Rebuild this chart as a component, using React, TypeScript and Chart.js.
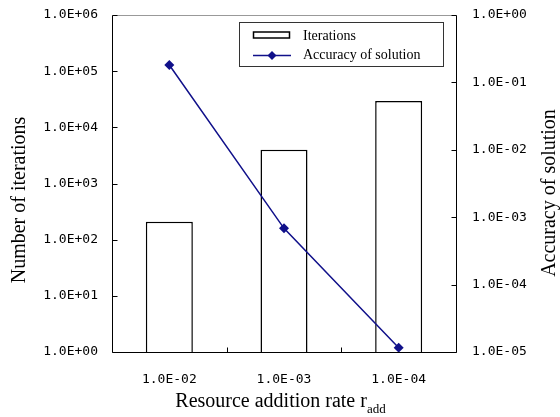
import React, { useEffect, useRef } from "react";
import { Chart, registerables } from "chart.js";

Chart.register(...registerables);

const categories = ["1.0E-02", "1.0E-03", "1.0E-04"];
const iterations = [208, 4000, 29500];
const accuracy = [0.181, 0.000684, 0.0000116];
const leftTicks = [1, 10, 100, 1000, 10000, 100000, 1000000];
const rightTicks = [0.00001, 0.0001, 0.001, 0.01, 0.1, 1];
const seriesNames = ["Iterations", "Accuracy of solution"];
const yTitle = "Number of iterations";
const y1Title = "Accuracy of solution";
const xTitleMain = "Resource addition rate r";
const xTitleSub = "add";

const SERIF = '"Liberation Serif", "Times New Roman", serif';
const MONO = '"DejaVu Sans Mono", monospace';
const NAVY = "#10108a";

const fmt = (v: number) => {
  const e = Math.round(Math.log10(v));
  return `1.0E${e < 0 ? "-" : "+"}${String(Math.abs(e)).padStart(2, "0")}`;
};

const overlay = {
  id: "overlay",
  afterDraw(chart: any) {
    const { ctx, chartArea } = chart;
    const { left, right, top, bottom } = chartArea;
    const sy = chart.scales.y;
    const sy1 = chart.scales.y1;
    const L = Math.round(left) + 0.5;
    const R = Math.round(right) + 0.5;
    const T = Math.round(top) + 0.5;
    const B = Math.round(bottom) + 0.5;
    ctx.save();
    ctx.lineWidth = 1;
    ctx.strokeStyle = "#999";
    ctx.beginPath();
    ctx.moveTo(L, T);
    ctx.lineTo(R, T);
    ctx.stroke();
    ctx.strokeStyle = "#000";
    ctx.beginPath();
    ctx.moveTo(L, T);
    ctx.lineTo(L, B);
    ctx.lineTo(R, B);
    ctx.lineTo(R, T);
    ctx.stroke();
    ctx.beginPath();
    leftTicks.forEach((v) => {
      const y = Math.round(sy.getPixelForValue(v)) + 0.5;
      ctx.moveTo(L, y);
      ctx.lineTo(L + 5, y);
    });
    rightTicks.forEach((v) => {
      const y = Math.round(sy1.getPixelForValue(v)) + 0.5;
      ctx.moveTo(R, y);
      ctx.lineTo(R - 5, y);
    });
    const n = categories.length;
    for (let i = 1; i < n; i++) {
      const x = Math.round(left + (i * (right - left)) / n) + 0.5;
      ctx.moveTo(x, B);
      ctx.lineTo(x, B - 5);
    }
    ctx.stroke();

    // legend
    const lx = 239, ly = 22, lw = 204, lh = 44;
    ctx.fillStyle = "#fff";
    ctx.fillRect(lx, ly, lw, lh);
    ctx.strokeStyle = "#333";
    ctx.strokeRect(lx + 0.5, ly + 0.5, lw, lh);
    ctx.strokeStyle = "#000";
    ctx.lineWidth = 1.5;
    ctx.strokeRect(253.5, 32, 36, 6);
    ctx.strokeStyle = NAVY;
    ctx.lineWidth = 1.5;
    ctx.beginPath();
    ctx.moveTo(253, 55.5);
    ctx.lineTo(291, 55.5);
    ctx.stroke();
    ctx.fillStyle = NAVY;
    ctx.beginPath();
    ctx.moveTo(272, 51);
    ctx.lineTo(276.5, 55.5);
    ctx.lineTo(272, 60);
    ctx.lineTo(267.5, 55.5);
    ctx.closePath();
    ctx.fill();
    ctx.fillStyle = "#000";
    ctx.font = `14px ${SERIF}`;
    ctx.textAlign = "left";
    ctx.textBaseline = "middle";
    ctx.fillText(seriesNames[0], 303, 36);
    ctx.fillText(seriesNames[1], 303, 55);

    ctx.font = `20px ${SERIF}`;
    ctx.textAlign = "center";
    ctx.save();
    ctx.translate(20, 200);
    ctx.rotate(-Math.PI / 2);
    ctx.fillText(yTitle, 0, 0);
    ctx.restore();
    ctx.save();
    ctx.translate(550, 193);
    ctx.rotate(-Math.PI / 2);
    ctx.fillText(y1Title, 0, 0);
    ctx.restore();

    ctx.textBaseline = "alphabetic";
    ctx.textAlign = "left";
    ctx.font = `20px ${SERIF}`;
    const wMain = ctx.measureText(xTitleMain).width;
    ctx.font = `13px ${SERIF}`;
    const wSub = ctx.measureText(xTitleSub).width;
    const x0 = 280.5 - (wMain + wSub) / 2;
    ctx.font = `20px ${SERIF}`;
    ctx.fillText(xTitleMain, x0, 407);
    ctx.font = `13px ${SERIF}`;
    ctx.fillText(xTitleSub, x0 + wMain, 413);
    ctx.restore();
  },
};

export default function App() {
  const ref = useRef<HTMLCanvasElement>(null);
  useEffect(() => {
    if (!ref.current) return;
    const chart = new Chart(ref.current, {
      type: "bar",
      data: {
        labels: categories,
        datasets: [
          {
            type: "bar",
            label: seriesNames[0],
            data: iterations,
            yAxisID: "y",
            backgroundColor: "#fff",
            borderColor: "#000",
            borderWidth: 1.5,
            barPercentage: 0.41,
            categoryPercentage: 1,
            order: 1,
          } as any,
          {
            type: "line",
            label: seriesNames[1],
            data: accuracy,
            yAxisID: "y1",
            borderColor: NAVY,
            backgroundColor: NAVY,
            borderWidth: 1.5,
            pointStyle: "rectRot",
            pointRadius: 5,
            pointBorderWidth: 0,
            order: 0,
          } as any,
        ],
      },
      options: {
        responsive: false,
        animation: false,
        devicePixelRatio: 1,
        layout: { padding: { top: 15, left: 0, right: 0, bottom: 0 } },
        plugins: { legend: { display: false }, tooltip: { enabled: false } },
        scales: {
          x: {
            type: "category",
            offset: true,
            grid: { display: false, drawTicks: false },
            border: { display: false },
            ticks: { font: { family: MONO, size: 13 }, color: "#000", padding: 20 },
            afterFit: (s: any) => { s.height = 65; s.paddingLeft = 0; s.paddingRight = 0; },
          },
          y: {
            type: "logarithmic",
            position: "left",
            min: 1,
            max: 1000000,
            grid: { display: false, drawTicks: false },
            border: { display: false },
            afterBuildTicks: (s: any) => { s.ticks = leftTicks.map((v) => ({ value: v })); },
            ticks: { font: { family: MONO, size: 13 }, color: "#000", padding: 14, callback: (v: any) => fmt(Number(v)) },
            afterFit: (s: any) => { s.width = 112; s.paddingTop = 0; s.paddingBottom = 0; },
          },
          y1: {
            type: "logarithmic",
            position: "right",
            min: 0.00001,
            max: 1,
            grid: { display: false, drawTicks: false },
            border: { display: false },
            afterBuildTicks: (s: any) => { s.ticks = rightTicks.map((v) => ({ value: v })); },
            ticks: { font: { family: MONO, size: 13 }, color: "#000", padding: 16, callback: (v: any) => fmt(Number(v)) },
            afterFit: (s: any) => { s.width = 104; s.paddingTop = 0; s.paddingBottom = 0; },
          },
        },
      } as any,
      plugins: [overlay],
    });
    return () => chart.destroy();
  }, []);
  return (
    <div style={{ position: "fixed", left: 0, top: 0, width: 560, height: 417, background: "#fff" }}>
      <canvas ref={ref} width={560} height={417} />
    </div>
  );
}
